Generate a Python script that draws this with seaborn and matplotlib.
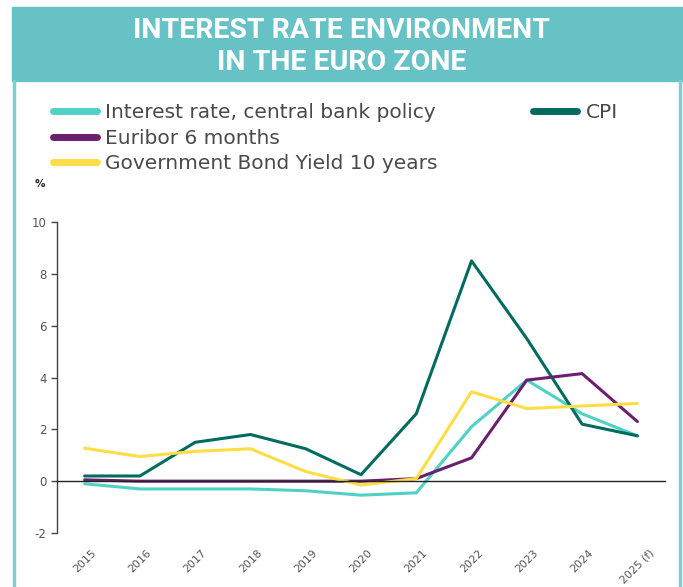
import pandas as pd
import matplotlib
matplotlib.use("Agg")
import matplotlib.pyplot as plt
import seaborn as sns
from matplotlib.lines import Line2D
from matplotlib.patches import Rectangle

#%% data
years = ['2015', '2016', '2017', '2018', '2019', '2020', '2021', '2022', '2023', '2024', '2025 (f)']
policy_rate = [-0.1, -0.3, -0.3, -0.3, -0.37, -0.54, -0.45, 2.1, 3.9, 2.6, 1.75]
cpi = [0.2, 0.2, 1.5, 1.8, 1.25, 0.25, 2.6, 8.5, 5.5, 2.2, 1.75]
euribor_6m = [0.05, 0.0, 0.0, 0.0, 0.0, 0.0, 0.1, 0.9, 3.9, 4.15, 2.3]
bond_10y = [1.27, 0.95, 1.15, 1.25, 0.37, -0.15, 0.1, 3.45, 2.8, 2.9, 3.0]

series_names = ['Interest rate, central bank policy', 'CPI', 'Euribor 6 months',
                'Government Bond Yield 10 years']
colors = {'Interest rate, central bank policy': '#4fd1c5',
          'CPI': '#006b5e',
          'Euribor 6 months': '#6a1f6f',
          'Government Bond Yield 10 years': '#ffdd44'}

df = pd.concat([
    pd.DataFrame({'year': years, 'value': policy_rate, 'series': series_names[0]}),
    pd.DataFrame({'year': years, 'value': cpi, 'series': series_names[1]}),
    pd.DataFrame({'year': years, 'value': euribor_6m, 'series': series_names[2]}),
    pd.DataFrame({'year': years, 'value': bond_10y, 'series': series_names[3]}),
])

#%% figure
sns.set_style('white')
plt.rcParams['font.family'] = ['DejaVu Sans']
plt.rcParams['axes.unicode_minus'] = False

fig = plt.figure(figsize=(6.83, 5.87), dpi=100)

# header band and frame
fig.patches.append(Rectangle((12 / 683, 1 - 81 / 587), 1, 74 / 587, transform=fig.transFigure,
                             color='#66c2c5', zorder=0))
fig.add_artist(Line2D([13.5 / 683, 13.5 / 683], [0, 1 - 81 / 587], transform=fig.transFigure,
                      color='#7fd0d3', lw=2.5))
fig.add_artist(Line2D([679.5 / 683, 679.5 / 683], [0, 1 - 81 / 587], transform=fig.transFigure,
                      color='#7fd0d3', lw=2.5))
fig.text(0.5, 1 - 31 / 587, 'INTEREST RATE ENVIRONMENT', color='white', fontsize=20.5,
         fontweight='bold', family='Roboto', ha='center', va='center')
fig.text(0.5, 1 - 63 / 587, 'IN THE EURO ZONE', color='white', fontsize=20.5,
         fontweight='bold', family='Roboto', ha='center', va='center')

ax = fig.add_axes([57 / 683, 1 - 533 / 587, 608 / 683, 311 / 587])
sns.lineplot(data=df, x='year', y='value', hue='series', palette=colors, ax=ax,
             linewidth=2.2, legend=False, sort=False)

ax.set_xlim(-0.5, len(years) - 0.5)
ax.set_ylim(-2, 10)
ax.set_yticks(range(-2, 11, 2))
ax.set_xlabel('')
ax.set_ylabel('')

# x axis sits at zero, ticks at category boundaries
for s in ['top', 'right']:
    ax.spines[s].set_visible(False)
ax.spines['bottom'].set_position(('data', 0))
ax.spines['bottom'].set_color('#222222')
ax.spines['left'].set_color('#444444')
ax.spines['bottom'].set_linewidth(1)
ax.spines['left'].set_linewidth(1)
ax.set_xticks([i + 0.5 for i in range(len(years))], minor=True)
ax.tick_params(axis='x', which='minor', length=4, direction='out', color='#222222', width=1)
ax.tick_params(axis='x', which='major', length=0, pad=48, labelsize=7.8, labelcolor='#555555')
ax.tick_params(axis='y', length=4, direction='out', color='#444444', width=1,
               labelsize=8.5, labelcolor='#555555', left=True)
for lab in ax.get_xticklabels():
    lab.set_rotation(45)
    lab.set_ha('center')

fig.text(40 / 683, 1 - 184 / 587, '%', fontsize=7.5, fontweight='bold', ha='center',
         va='center', color='#222222')

# legends
def handles(names):
    return [Line2D([0], [0], color=colors[n], lw=5, solid_capstyle='round') for n in names]

left_names = [series_names[0], series_names[2], series_names[3]]
leg_kw = dict(loc='upper left', frameon=False, fontsize=14.5, handlelength=2.2,
              handletextpad=0.4, labelspacing=0.33, borderpad=0, labelcolor='#4a4a4a')
fig.legend(handles(left_names), left_names, bbox_to_anchor=(43 / 683, 1 - 93 / 587), **leg_kw)
fig.legend(handles([series_names[1]]), [series_names[1]],
           bbox_to_anchor=(523 / 683, 1 - 93 / 587), **leg_kw)

fig.savefig('out.png', dpi=100)
